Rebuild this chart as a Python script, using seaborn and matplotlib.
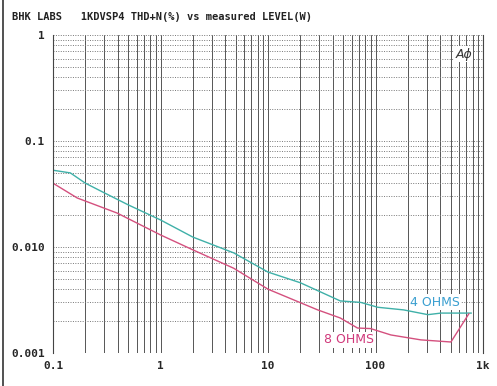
import numpy as np
import pandas as pd
import matplotlib
matplotlib.use("Agg")
import matplotlib.pyplot as plt
import seaborn as sns
from matplotlib.ticker import FixedLocator, NullFormatter

# Data (power in W, THD+N in %)
power_4 = [0.1, 0.145, 0.2, 0.29, 0.5, 1.0, 2.0, 4.8, 10, 20, 47, 73, 105, 183, 307, 406, 780]
thd_4 = [0.053, 0.050, 0.040, 0.033, 0.025, 0.018, 0.0124, 0.0088, 0.0058, 0.0046, 0.0031,
         0.0030, 0.0027, 0.00255, 0.00230, 0.00238, 0.00238]
power_8 = [0.1, 0.168, 0.395, 1.0, 2.0, 4.8, 10, 29, 47, 68, 90, 139, 264, 503, 740]
thd_8 = [0.040, 0.029, 0.0209, 0.0130, 0.0094, 0.0063, 0.0040, 0.00255, 0.00214,
         0.00172, 0.00170, 0.00148, 0.00133, 0.00127, 0.00235]

x_ticks = [0.1, 1, 10, 100, 1000]
x_labels = ["0.1", "1", "10", "100", "1k"]
y_ticks = [0.001, 0.01, 0.1, 1]
y_labels = ["0.001", "0.010", "0.1", "1"]

df = pd.concat([
    pd.DataFrame({"power": power_4, "thd": thd_4, "load": "4 OHMS"}),
    pd.DataFrame({"power": power_8, "thd": thd_8, "load": "8 OHMS"}),
])

sns.set_style("white")
plt.rcParams['font.family'] = ['DejaVu Sans Mono', 'DejaVu Sans']

fig = plt.figure(figsize=(4.97, 3.86), dpi=100)
ax = fig.add_axes([53/497, 1-353/386, (483-53)/497, (353-35)/386])

palette = {"4 OHMS": "#3fb0a8", "8 OHMS": "#d4507e"}
sns.lineplot(data=df, x="power", y="thd", hue="load", palette=palette,
             linewidth=1.0, legend=False, sort=False, estimator=None, ax=ax)

ax.set_xscale("log")
ax.set_yscale("log")
ax.set_xlim(0.1, 1000)
ax.set_ylim(0.001, 1)

ax.xaxis.set_major_locator(FixedLocator(x_ticks))
ax.yaxis.set_major_locator(FixedLocator(y_ticks))
xminor = [m * 10**e for e in range(-1, 3) for m in range(2, 10)]
yminor = [m * 10**e for e in range(-3, 0) for m in range(2, 10)]
ax.xaxis.set_minor_locator(FixedLocator(xminor))
ax.yaxis.set_minor_locator(FixedLocator(yminor))
ax.xaxis.set_minor_formatter(NullFormatter())
ax.yaxis.set_minor_formatter(NullFormatter())
ax.set_xticklabels(x_labels, fontsize=8, fontweight="bold")
ax.set_yticklabels(y_labels, fontsize=8, fontweight="bold")
ax.tick_params(which="both", length=0, pad=6)

ax.grid(True, which="both", axis="x", color="#555555", linewidth=0.7, linestyle="-")
ax.grid(True, which="both", axis="y", color="#777777", linewidth=0.7, linestyle=(0, (1, 1.5)))
ax.set_axisbelow(True)
for side in ["top", "bottom"]:
    ax.spines[side].set_visible(False)
for side in ["left", "right"]:
    ax.spines[side].set_color("#444444")
    ax.spines[side].set_linewidth(0.8)

ax.set_xlabel("")
ax.set_ylabel("")

ax.text(0.83, 0.16, "4 OHMS", transform=ax.transAxes, color="#3a9fd0",
        fontsize=9, family="DejaVu Sans", ha="left", va="center",
        bbox=dict(boxstyle="square,pad=0.1", facecolor="white", edgecolor="none"))
ax.text(0.63, 0.041, "8 OHMS", transform=ax.transAxes, color="#d0387a",
        fontsize=9, family="DejaVu Sans", ha="left", va="center",
        bbox=dict(boxstyle="square,pad=0.1", facecolor="white", edgecolor="none"))
ax.text(0.955, 0.94, "A\u03d5", transform=ax.transAxes, color="#333333",
        fontsize=9, family="DejaVu Sans", style="italic", ha="center", va="center",
        bbox=dict(boxstyle="square,pad=0.1", facecolor="white", edgecolor="none"))

fig.text(12/497, 1-17/386, "BHK LABS   1KDVSP4 THD+N(%) vs measured LEVEL(W)",
         fontsize=7.5, fontweight="bold", ha="left", va="center", color="#222222")

fig.add_artist(plt.Line2D([3/497, 3/497], [0, 1], color="#333333", linewidth=1.2,
                          transform=fig.transFigure))

fig.savefig("out.png", dpi=100)
